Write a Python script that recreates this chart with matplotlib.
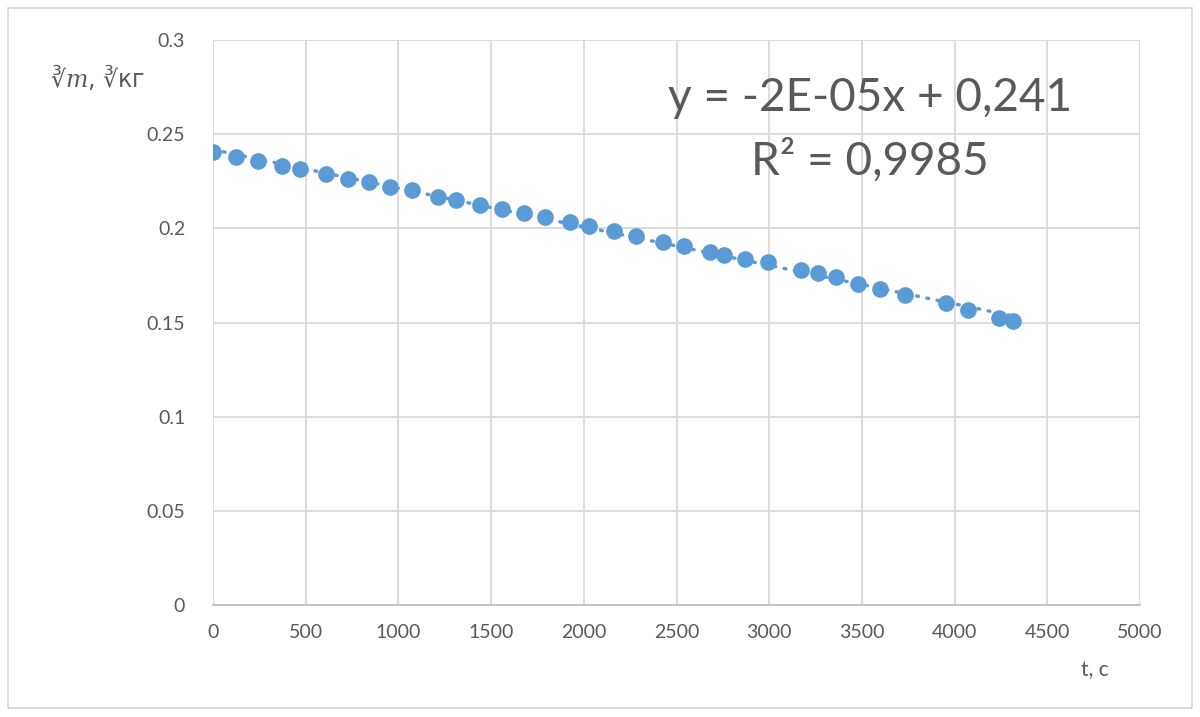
import numpy as np
import matplotlib.pyplot as plt
import matplotlib.ticker as tck
from matplotlib.patches import Rectangle

plt.rcParams['font.family'] = ['Lato', 'DejaVu Sans']
plt.rcParams['mathtext.fontset'] = 'dejavuserif'

# data
t = [0, 124, 243, 372, 469, 610, 728, 841, 955, 1073, 1214, 1311, 1440, 1559,
     1677, 1791, 1926, 2028, 2163, 2282, 2427, 2540, 2681, 2756, 2869, 2993,
     3171, 3263, 3360, 3479, 3598, 3732, 3954, 4072, 4239, 4315]
m3 = [0.2406, 0.2379, 0.2356, 0.2331, 0.2315, 0.2289, 0.2262, 0.2246, 0.2222,
      0.2201, 0.2169, 0.2151, 0.2124, 0.2103, 0.2082, 0.2058, 0.2034, 0.2013,
      0.1986, 0.1960, 0.1928, 0.1907, 0.1877, 0.1859, 0.1837, 0.1819, 0.1779,
      0.1763, 0.1742, 0.1705, 0.1678, 0.1646, 0.1601, 0.1567, 0.1524, 0.1509]

blue = '#5b9bd5'
grey_txt = '#595959'
grid_c = '#d9d9d9'

fig = plt.figure(figsize=(12, 7.17), dpi=100)
ax = fig.add_axes([0.1775, 0.1562, 0.7725, 0.788])

# trendline (linear fit of the data)
k, b = np.polyfit(t, m3, 1)
xs = np.array([min(t), max(t)])
ax.plot(xs, k * xs + b, color=blue, linestyle=(0, (0.5, 2.5)), linewidth=2.5,
        dash_capstyle='round', zorder=2)
ax.plot(t, m3, 'o', color=blue, markersize=12, markeredgewidth=0, zorder=3)

ax.set_xlim(0, 5000)
ax.set_ylim(0, 0.3)
ax.xaxis.set_major_locator(tck.MultipleLocator(500))
ax.yaxis.set_major_locator(tck.MultipleLocator(0.05))
ax.yaxis.set_major_formatter(tck.FuncFormatter(lambda v, p: '%g' % round(v, 2)))
ax.grid(color=grid_c, linewidth=1.3)
ax.set_axisbelow(True)
for s in ['top', 'right', 'left']:
    ax.spines[s].set_visible(False)
ax.spines['bottom'].set_color('#bfbfbf')
ax.spines['bottom'].set_linewidth(1.3)
ax.tick_params(length=0, labelsize=14, colors=grey_txt, pad=14)
ax.tick_params(axis='y', pad=20)

fig.text(0.081, 0.892, '∛$m$, ∛кг', fontsize=17, color=grey_txt, va='center', ha='center',
         family='DejaVu Sans')
fig.text(0.912, 0.066, 't, с', fontsize=15, color=grey_txt, ha='center', va='center')

fig.text(0.725, 0.864, 'y = -2E-05x + 0,241', fontsize=33, color=grey_txt, ha='center', va='center')
fig.text(0.725, 0.776, 'R² = 0,9985', fontsize=33, color=grey_txt, ha='center', va='center')

fig.patches.append(Rectangle((0.007, 0.012), 0.986, 0.977, transform=fig.transFigure,
                             fill=False, edgecolor='#d9d9d9', linewidth=1.3))

plt.savefig('out.png')
